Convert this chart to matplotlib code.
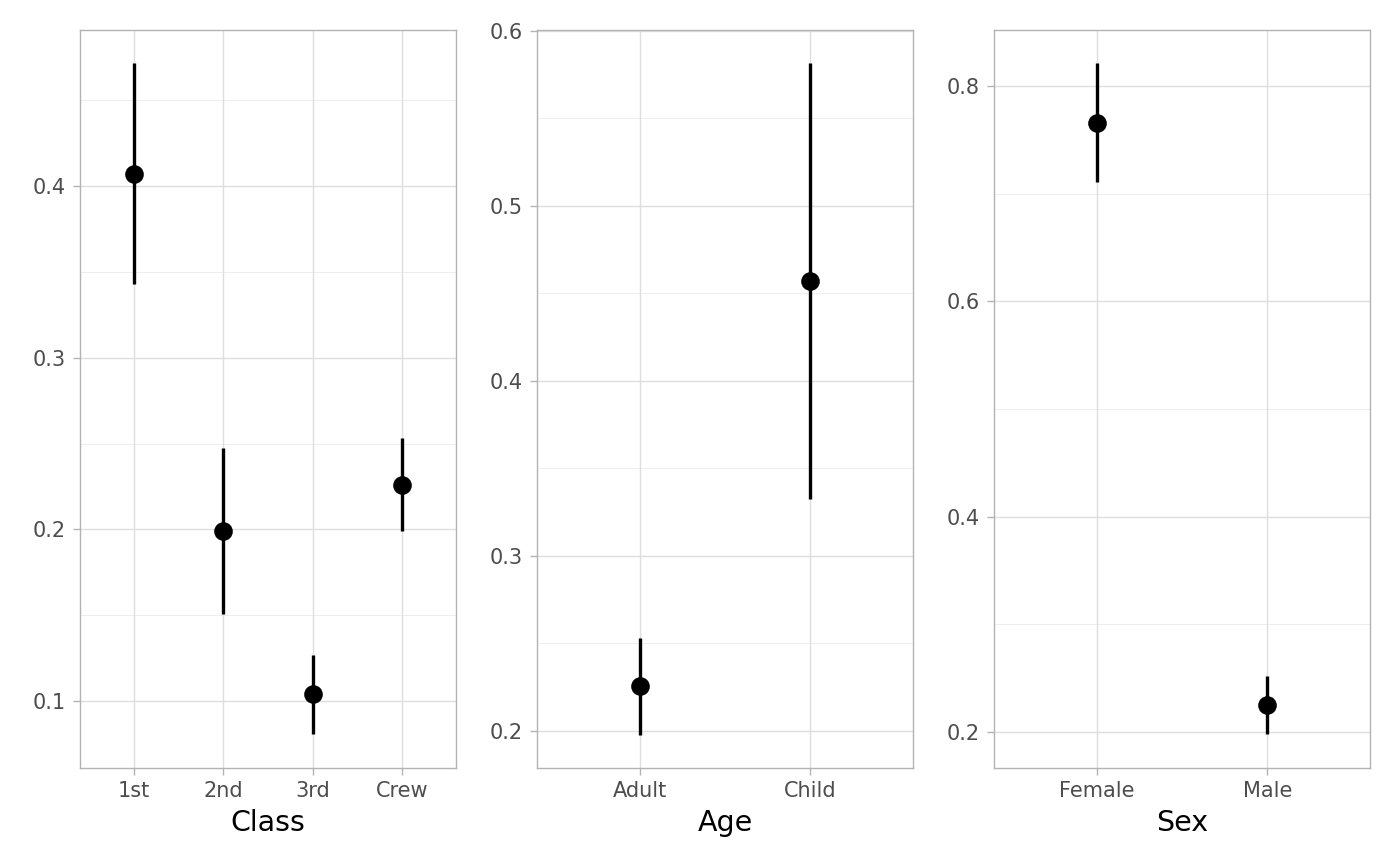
import matplotlib
matplotlib.use("Agg")
import matplotlib.pyplot as plt
import numpy as np

plt.rcParams['font.family'] = ['DejaVu Sans']

class_cats = ["1st", "2nd", "3rd", "Crew"]
class_est = [0.407, 0.199, 0.104, 0.2256]
class_lo = [0.343, 0.1505, 0.0808, 0.1988]
class_hi = [0.4716, 0.2472, 0.1268, 0.253]

age_cats = ["Adult", "Child"]
age_est = [0.2257, 0.4568]
age_lo = [0.198, 0.3324]
age_hi = [0.253, 0.5812]

sex_cats = ["Female", "Male"]
sex_est = [0.7656, 0.225]
sex_lo = [0.7108, 0.198]
sex_hi = [0.8214, 0.252]

panels = [
    ("Class", class_cats, class_est, class_lo, class_hi, [0.1, 0.2, 0.3, 0.4], (0.061, 0.4909), 80),
    ("Age", age_cats, age_est, age_lo, age_hi, [0.2, 0.3, 0.4, 0.5, 0.6], (0.1789, 0.6003), 537),
    ("Sex", sex_cats, sex_est, sex_lo, sex_hi, [0.2, 0.4, 0.6, 0.8], (0.1666, 0.852), 994),
]

W, H = 1400, 866
fig = plt.figure(figsize=(14, 8.66), dpi=100)
grid_col = "#DEDEDE"
border_col = "#B3B3B3"

for title, cats, est, lo, hi, ticks, ylim, left in panels:
    ax = fig.add_axes([left / W, (H - 768) / H, 376 / W, 738 / H])
    x = np.arange(len(cats))
    ax.set_xlim(-0.6, len(cats) - 1 + 0.6)
    ax.set_ylim(*ylim)
    # minor grid
    step = ticks[1] - ticks[0]
    minors = [ticks[0] - step / 2] + [t + step / 2 for t in ticks]
    for m in minors:
        if ylim[0] < m < ylim[1]:
            ax.axhline(m, color="#EBEBEB", lw=0.6, zorder=0)
    for t in ticks:
        ax.axhline(t, color=grid_col, lw=1.0, zorder=0)
    for xi in x:
        ax.axvline(xi, color=grid_col, lw=1.0, zorder=0)
    ax.vlines(x, lo, hi, color="black", lw=2.4, zorder=3)
    ax.scatter(x, est, s=180, color="black", zorder=4, linewidths=0)
    ax.set_xticks(x)
    ax.set_xticklabels(cats)
    ax.set_yticks(ticks)
    ax.set_yticklabels([f"{t:.1f}" for t in ticks])
    ax.tick_params(axis="both", colors=border_col, labelcolor="#4D4D4D", labelsize=15,
                   length=5, width=1.0)
    ax.tick_params(axis="x", pad=4.5)
    ax.tick_params(axis="y", pad=5)
    for s in ax.spines.values():
        s.set_color(border_col)
        s.set_linewidth(1.0)
    ax.set_xlabel(title, fontsize=20.5, color="black", labelpad=5.5)

fig.savefig("out.png", dpi=100, facecolor="white")
